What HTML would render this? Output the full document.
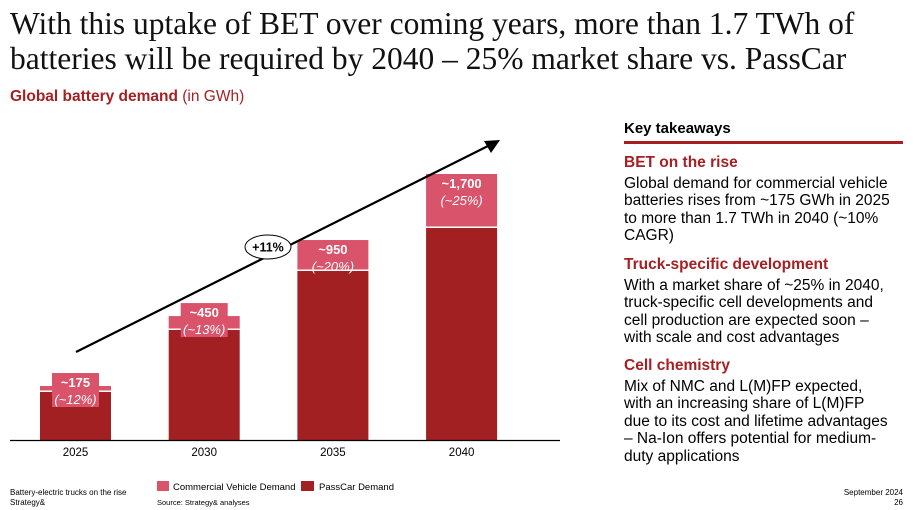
<!DOCTYPE html>
<html><head><meta charset="utf-8">
<style>
body{margin:0;width:915px;height:510px;background:#fff;position:relative;overflow:hidden;font-family:"Liberation Sans",Arial,sans-serif}
.t{position:absolute;white-space:nowrap}
#title{left:10px;top:6px;font-family:"Liberation Serif",serif;font-size:31.5px;line-height:35px;color:#111}
#sub{left:10px;top:88px;font-size:15.5px;color:#a51f23;font-weight:bold}
#sub span{font-weight:normal}
#kt{left:624px;top:120px;font-size:15px;font-weight:bold;color:#000}
#ktline{position:absolute;left:624px;top:141px;width:279px;height:3px;background:#a51f23}
.h{position:absolute;left:624px;font-size:15.5px;font-weight:bold;color:#a51f23}
.b{position:absolute;left:624px;font-size:15.5px;line-height:17.4px;color:#000;white-space:nowrap}
.f{position:absolute;font-size:8px;color:#000;white-space:nowrap}
</style></head><body>
<div id="title" class="t">With this uptake of BET over coming years, more than 1.7 TWh of<br>batteries will be required by 2040 – 25% market share vs. PassCar</div>
<div id="sub" class="t">Global battery demand <span>(in GWh)</span></div>

<svg id="chart" width="560" height="510" style="position:absolute;left:0;top:0" font-family="Liberation Sans, Arial, sans-serif"></svg>

<div id="kt" class="t">Key takeaways</div>
<div id="ktline"></div>
<div class="h" style="top:154px">BET on the rise</div>
<div class="b" style="top:175px">Global demand for commercial vehicle<br>batteries rises from ~175 GWh in 2025<br>to more than 1.7 TWh in 2040 (~10%<br>CAGR)</div>
<div class="h" style="top:256px">Truck-specific development</div>
<div class="b" style="top:277px">With a market share of ~25% in 2040,<br>truck-specific cell developments and<br>cell production are expected soon –<br>with scale and cost advantages</div>
<div class="h" style="top:357px">Cell chemistry</div>
<div class="b" style="top:378px">Mix of NMC and L(M)FP expected,<br>with an increasing share of L(M)FP<br>due to its cost and lifetime advantages<br>– Na-Ion offers potential for medium-<br>duty applications</div>

<div class="f" style="left:10px;top:488px">Battery-electric trucks on the rise</div>
<div class="f" style="left:10px;top:498px">Strategy&amp;</div>
<div class="f" style="right:12px;top:488px;text-align:right">September 2024</div>
<div class="f" style="right:12px;top:498px">26</div>

<script>
const years = ["2025","2030","2035","2040"];
const passCar = [307, 703, 1080, 1355];
const commercial = [38, 89, 198, 345];
const totalLabels = ["~175","~450","~950","~1,700"];
const shareLabels = ["(~12%)","(~13%)","(~20%)","(~25%)"];

const NS="http://www.w3.org/2000/svg";
const svg=document.getElementById('chart');
const base=440, plotH=266, maxV=1700;
const y=v=>base - v/maxV*plotH;
const h=v=>v/maxV*plotH;
const x0=40, step=128.7, bw=71;
const xb=i=>x0+i*step;
function mk(tag,a){const e=document.createElementNS(NS,tag);for(const k in a)e.setAttribute(k,a[k]);svg.appendChild(e);return e;}

years.forEach((yr,i)=>{
  const pc=mk('rect',{x:xb(i),y:y(passCar[i]),width:bw,height:h(passCar[i]),fill:'#a21f22'});
  
  
  const tot=passCar[i]+commercial[i];
  const cv=mk('rect',{x:xb(i),y:y(tot),width:bw,height:h(commercial[i])-1.5,fill:'#d9536a'});
  
  
  const cx=xb(i)+bw/2;
  const small=h(commercial[i])<25;
  let ty;
  if(small){
    ty=y(tot)-13;
    const bx=mk('rect',{x:cx-23.5,y:ty,width:47,height:34,fill:'#d9536a'});
    
    
  } else {
    ty=y(tot);
  }
  const t1=mk('text',{x:cx,y:ty+14,'text-anchor':'middle','font-size':13,'font-weight':'bold',fill:'#fff'});
  t1.textContent=totalLabels[i];
  
  
  const t2=mk('text',{x:cx,y:ty+31,'text-anchor':'middle','font-size':13,'font-style':'italic',fill:'#fff'});
  t2.textContent=shareLabels[i];
  
  
  const xl=mk('text',{x:cx,y:base+16,'text-anchor':'middle','font-size':11.5,fill:'#000'});
  xl.textContent=yr;
  
  
});
const ax=mk('line',{x1:10,y1:base+0.5,x2:560,y2:base+0.5,stroke:'#000','stroke-width':1.2});



const ar=mk('line',{x1:76,y1:352,x2:488,y2:146,stroke:'#000','stroke-width':2.2});


const ah=mk('polygon',{points:'500,140 484,141 491,153',fill:'#000'});


const el=mk('ellipse',{cx:268,cy:247,rx:23,ry:12,fill:'#fff',stroke:'#000','stroke-width':1});


const ct=mk('text',{x:268,y:251.5,'text-anchor':'middle','font-size':12.5,'font-weight':'bold',fill:'#000'});
ct.textContent='+11%';



const l1=mk('rect',{x:157,y:481,width:12,height:10,fill:'#d9536a'});


const lt1=mk('text',{x:173,y:490,'font-size':9.5,fill:'#000'});
lt1.textContent='Commercial Vehicle Demand';


const l2=mk('rect',{x:301,y:481,width:13,height:10,fill:'#a21f22'});


const lt2=mk('text',{x:319,y:490,'font-size':9.5,fill:'#000'});
lt2.textContent='PassCar Demand';


const src=mk('text',{x:157,y:505,'font-size':7.5,fill:'#000'});
src.textContent='Source: Strategy& analyses';


</script>
</body></html>
